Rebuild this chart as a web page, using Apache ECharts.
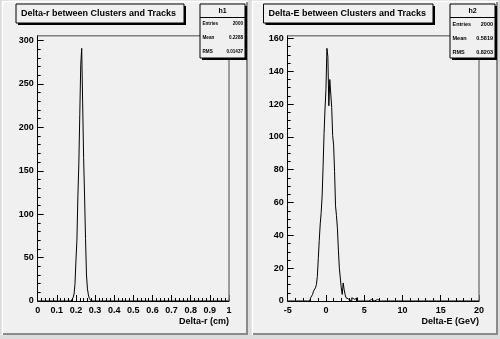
<!DOCTYPE html>
<html><head><meta charset="utf-8">
<script src="https://cdn.jsdelivr.net/npm/echarts@6/dist/echarts.min.js"></script>
<style>html,body{margin:0;padding:0;background:#f0f0f0}#c{width:500px;height:339px}</style>
</head><body><div id="c"></div>
<script>
// ---- data ----
const leftTitle = 'Delta-r between Clusters and Tracks';
const rightTitle = 'Delta-E between Clusters and Tracks';
const leftXName = 'Delta-r (cm)';
const rightXName = 'Delta-E (GeV)';
const leftStatsName = 'h1';
const rightStatsName = 'h2';
const statLabels = ['Entries', 'Mean', 'RMS'];
const leftStats = ['2000', '0.2288', '0.01437'];
const rightStats = ['2000', '0.5819', '0.8203'];
const leftRange = [0, 1];
const rightRange = [-5, 20];
const leftYMax = 305.6;
const rightYMax = 161.7;
const leftStart = 0.175, leftBinWidth = 0.005;
const leftCounts = [1, 2, 4, 8, 20, 47, 70, 120, 158, 215, 272, 291, 229, 165, 121, 72, 30, 14, 7, 3, 1];
const rightStart = -2.125, rightBinWidth = 0.125;
const rightCounts = [1, 2, 3, 4, 6, 5, 8, 10, 15, 26, 37, 47, 54, 64, 82, 102, 117, 129, 154, 149, 119, 135, 134, 118, 101, 95, 79, 58, 52, 44, 31, 20, 14, 8, 4, 11, 7, 4, 2, 3, 1, 2, 1, 0, 2, 1, 1, 0, 1, 2, 0, 1, 0, 0, 1, 0, 1, 1, 0, 0, 1, 0, 0, 0, 1, 0, 1, 0, 0, 0, 1, 0, 0, 0, 0, 1, 0, 0, 1];

// ---- build ----
function histPoints(range, start, w, counts) {
  const pts = [[range[0], 0], [start, 0]];
  counts.forEach((c, i) => pts.push([+(start + i * w).toFixed(6), c]));
  pts.push([+(start + counts.length * w).toFixed(6), 0]);
  pts.push([range[1], 0]);
  return pts;
}
const FONT = 'Liberation Sans, Arial, Helvetica, sans-serif';
const G = [{ left: 37.7, w: 191.3 }, { left: 287.7, w: 191.3 }];
const gridTop = 35.7, gridBottom = 301;

function xAxis(i, range, interval, minorSplit, name) {
  return {
    gridIndex: i, type: 'value', min: range[0], max: range[1], interval: interval,
    axisLine: { show: true, lineStyle: { color: '#000', width: 1 } },
    axisTick: { show: true, inside: true, length: 6, lineStyle: { color: '#000', width: 1 } },
    minorTick: { show: true, splitNumber: minorSplit, length: 3, lineStyle: { color: '#000', width: 1 } },
    splitLine: { show: false },
    axisLabel: { show: true, color: '#000', fontSize: 9, fontWeight: 'bold', fontFamily: FONT, margin: 5 },
    name: name, nameLocation: 'end', nameGap: 0,
    nameTextStyle: { color: '#000', fontSize: 9, fontWeight: 'bold', fontFamily: FONT, align: 'right', verticalAlign: 'top', padding: [16, 0, 0, 0] }
  };
}
function yAxis(i, max, interval, minorSplit, onZeroIdx) {
  const axisLine = { show: true, lineStyle: { color: '#000', width: 1 } };
  if (onZeroIdx != null) axisLine.onZeroAxisIndex = onZeroIdx;
  return {
    gridIndex: i, type: 'value', min: 0, max: max, interval: interval,
    axisLine: axisLine,
    axisTick: { show: true, inside: true, length: 6, lineStyle: { color: '#000', width: 1 } },
    minorTick: { show: true, splitNumber: minorSplit, length: 3, lineStyle: { color: '#000', width: 1 } },
    splitLine: { show: false },
    axisLabel: { show: true, color: '#000', fontSize: 9, fontWeight: 'bold', fontFamily: FONT, margin: 4, showMaxLabel: false,
      formatter: v => (Math.abs(v / interval - Math.round(v / interval)) < 1e-6 ? String(v) : '') }
  };
}
function titleBox(x1, x2, text) {
  return [
    { type: 'rect', z: 20, shape: { x: x1 + 2, y: 6, width: x2 - x1, height: 19 }, style: { fill: '#000' } },
    { type: 'rect', z: 21, shape: { x: x1, y: 4, width: x2 - x1, height: 19 }, style: { fill: '#f0f0f0', stroke: '#000', lineWidth: 1 } },
    { type: 'text', z: 22, style: { text: text, x: x1 + 5, y: 13.5, fill: '#000', font: 'bold 9px ' + FONT, verticalAlign: 'middle', align: 'left' } }
  ];
}
function statsBox(x1, name, vals, fs) {
  const w = 45, y1 = 4, h = 54;
  const els = [
    { type: 'rect', z: 20, shape: { x: x1 + 2, y: y1 + 2, width: w, height: h }, style: { fill: '#000' } },
    { type: 'rect', z: 21, shape: { x: x1, y: y1, width: w, height: h }, style: { fill: '#f0f0f0', stroke: '#000', lineWidth: 1 } },
    { type: 'line', z: 22, shape: { x1: x1, y1: 17.5, x2: x1 + w, y2: 17.5 }, style: { stroke: '#000', lineWidth: 1 } },
    { type: 'text', z: 22, style: { text: name, x: x1 + w / 2, y: 11, fill: '#000', font: 'bold 7px ' + FONT, align: 'center', verticalAlign: 'middle' } }
  ];
  statLabels.forEach((l, k) => {
    const y = 24 + k * 14;
    els.push({ type: 'text', z: 22, style: { text: l, x: x1 + 2.5, y: y, fill: '#000', font: 'bold ' + fs + 'px ' + FONT, align: 'left', verticalAlign: 'middle' } });
    els.push({ type: 'text', z: 22, style: { text: vals[k], x: x1 + w - 2, y: y, fill: '#000', font: 'bold ' + fs + 'px ' + FONT, align: 'right', verticalAlign: 'middle' } });
  });
  return els;
}
function pad(x1, x2) {
  return [
    { type: 'polyline', z: 1, shape: { points: [[x1 + 0.5, 335], [x1 + 0.5, 1.5], [x2, 1.5]] }, style: { stroke: '#ffffff', lineWidth: 1.5, fill: null } },
    { type: 'polyline', z: 1, shape: { points: [[x1 + 1, 334], [x2 - 1, 334], [x2 - 1, 2]] }, style: { stroke: '#8a8a8a', lineWidth: 2, fill: null } }
  ];
}
function frame(g) {
  return [{ type: 'polyline', z: 1, shape: { points: [[g.left, gridTop], [g.left + g.w, gridTop], [g.left + g.w, gridBottom]] }, style: { stroke: '#808080', lineWidth: 1.5, fill: null } }];
}
const gaps = [
  { type: 'rect', z: 0, shape: { x: 248, y: 0, width: 4, height: 339 }, style: { fill: '#dcdcdc' } },
  { type: 'rect', z: 0, shape: { x: 0, y: 335, width: 500, height: 4 }, style: { fill: '#dcdcdc' } },
  { type: 'rect', z: 0, shape: { x: 0, y: 0, width: 2, height: 339 }, style: { fill: '#dcdcdc' } },
  { type: 'rect', z: 0, shape: { x: 498, y: 0, width: 2, height: 339 }, style: { fill: '#dcdcdc' } },
  { type: 'rect', z: 0, shape: { x: 0, y: 0, width: 500, height: 1 }, style: { fill: '#dcdcdc' } }
];

// hidden helper x axis (global index 2, range without zero) so the right y axis stays at the left edge of its frame
const helperX = { gridIndex: 1, type: 'value', min: 1, max: 2, show: false, position: 'top' };

const chart = echarts.init(document.getElementById('c'), null, { renderer: 'canvas' });
chart.setOption({
  backgroundColor: '#f0f0f0',
  animation: false,
  grid: G.map(g => ({ left: g.left, width: g.w, top: gridTop, height: gridBottom - gridTop })),
  xAxis: [xAxis(0, leftRange, 0.1, 5, leftXName), xAxis(1, rightRange, 5, 5, rightXName), helperX],
  yAxis: [yAxis(0, leftYMax, 50, 5, null), yAxis(1, rightYMax, 20, 4, 2)],
  series: [
    { type: 'line', xAxisIndex: 0, yAxisIndex: 0, step: 'end', showSymbol: false, symbol: 'none', data: histPoints(leftRange, leftStart, leftBinWidth, leftCounts), lineStyle: { color: '#000', width: 1 }, z: 5 },
    { type: 'line', xAxisIndex: 1, yAxisIndex: 1, step: 'end', showSymbol: false, symbol: 'none', data: histPoints(rightRange, rightStart, rightBinWidth, rightCounts), lineStyle: { color: '#000', width: 1 }, z: 5 }
  ],
  graphic: [].concat(gaps, pad(2, 248), pad(252, 498), frame(G[0]), frame(G[1]), titleBox(16, 184, leftTitle), titleBox(263.5, 433, rightTitle), statsBox(200, leftStatsName, leftStats, 4.6), statsBox(450, rightStatsName, rightStats, 5.5))
});
</script></body></html>
